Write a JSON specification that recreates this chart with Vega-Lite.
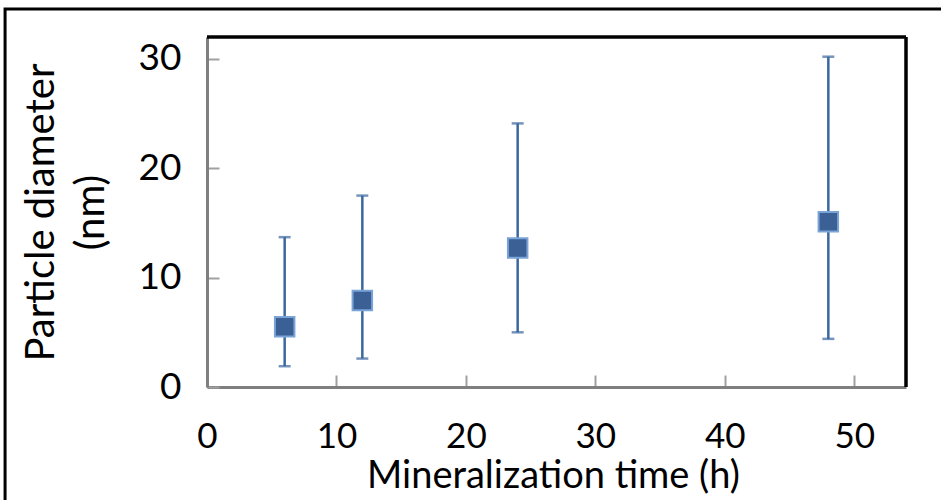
{
  "$schema": "https://vega.github.io/schema/vega-lite/v6.json",
  "width": 699,
  "height": 350,
  "autosize": {"type": "none"},
  "padding": {"left": 207, "top": 37, "right": 35, "bottom": 113},
  "background": "white",
  "config": {
    "view": {"stroke": null},
    "font": "Lato",
    "axis": {"grid": false, "labelFont": "Lato", "titleFont": "Lato", "labelColor": "black", "titleColor": "black", "titleFontWeight": "normal", "labelFontSize": 37, "titleFontSize": 38, "labelFlush": false}
  },
  "datasets": {
    "pts": [
      {"t": 6, "d": 5.5, "lo": 1.9, "hi": 13.7},
      {"t": 12, "d": 7.9, "lo": 2.6, "hi": 17.5},
      {"t": 24, "d": 12.7, "lo": 5.0, "hi": 24.1},
      {"t": 48, "d": 15.1, "lo": 4.4, "hi": 30.2}
    ],
    "frame": [{"x0": -15.6, "x1": 80, "y0": 34.55, "y1": -30}]
  },
  "layer": [
    {
      "data": {"name": "frame"},
      "mark": {"type": "rect", "fill": null, "stroke": "black", "strokeWidth": 3, "clip": false},
      "encoding": {
        "x": {"field": "x0", "type": "quantitative", "scale": {"domain": [0, 54]}},
        "x2": {"field": "x1"},
        "y": {"field": "y0", "type": "quantitative", "scale": {"domain": [0, 32]}},
        "y2": {"field": "y1"}
      }
    },
    {
      "data": {"values": [{"v": 32}]},
      "mark": {"type": "rule", "color": "black", "strokeWidth": 3.5},
      "encoding": {"y": {"field": "v", "type": "quantitative"}}
    },
    {
      "data": {"values": [{"v": 54}]},
      "mark": {"type": "rule", "color": "black", "strokeWidth": 3.5},
      "encoding": {"x": {"field": "v", "type": "quantitative"}}
    },
    {
      "data": {"name": "pts"},
      "layer": [
        {
          "mark": {"type": "rule", "color": "#3b67a0", "strokeWidth": 2.5},
          "encoding": {
            "x": {"field": "t", "type": "quantitative", "scale": {"domain": [0, 54], "nice": false},
              "axis": {"values": [0, 10, 20, 30, 40, 50], "title": "Mineralization time (h)", "titleFontSize": 38, "titleX": 346, "labelFontSize": 35, "domainColor": "#7f7f7f", "domainWidth": 3, "tickColor": "#a0a0a0", "tickWidth": 2, "tickSize": -12, "labelPadding": 44, "titlePadding": 3}},
            "y": {"field": "lo", "type": "quantitative", "scale": {"domain": [0, 32], "nice": false},
              "axis": {"values": [0, 10, 20, 30], "title": ["Particle diameter", "(nm)"], "titleFontSize": 40, "domainColor": "#7f7f7f", "domainWidth": 3, "tickColor": "#a0a0a0", "tickWidth": 2, "tickSize": -12, "labelPadding": 38, "titlePadding": 27, "titleLineHeight": 50}},
            "y2": {"field": "hi"}
          }
        },
        {
          "mark": {"type": "tick", "orient": "horizontal", "color": "#3b67a0", "thickness": 2.5, "size": 12},
          "encoding": {"x": {"field": "t", "type": "quantitative"}, "y": {"field": "lo", "type": "quantitative"}}
        },
        {
          "mark": {"type": "tick", "orient": "horizontal", "color": "#3b67a0", "thickness": 2.5, "size": 12},
          "encoding": {"x": {"field": "t", "type": "quantitative"}, "y": {"field": "hi", "type": "quantitative"}}
        },
        {
          "mark": {"type": "square", "filled": true, "fill": "#3a6096", "stroke": "#7aa3d6", "strokeWidth": 2, "opacity": 1, "size": 380},
          "encoding": {"x": {"field": "t", "type": "quantitative"}, "y": {"field": "d", "type": "quantitative"}}
        }
      ]
    }
  ]
}
